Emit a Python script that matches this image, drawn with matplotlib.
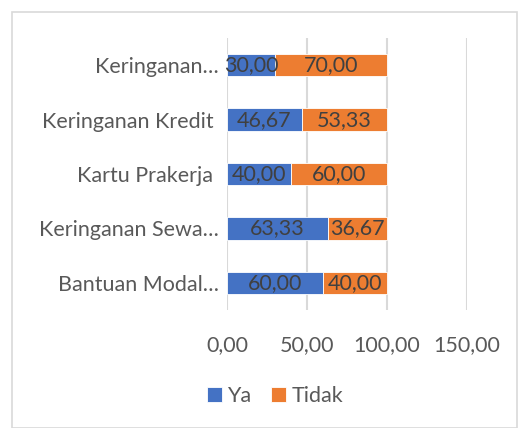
import matplotlib.pyplot as plt
from matplotlib.patches import Rectangle

categories = ["Bantuan Modal…", "Keringanan Sewa…", "Kartu Prakerja ", "Keringanan Kredit ", "Keringanan…"]
ya = [60.00, 63.33, 40.00, 46.67, 30.00]
tidak = [40.00, 36.67, 60.00, 53.33, 70.00]
x_ticks = [0, 50, 100, 150]

plt.rcParams['font.family'] = ['Lato', 'DejaVu Sans']
fs = 15.5

fig = plt.figure(figsize=(5.18, 4.28), dpi=100)
ax = fig.add_axes([227 / 518, 1 - 310 / 428, 240 / 518, 272 / 428])

fig.patches.append(Rectangle((12 / 518, 0), 1 - 13 / 518, 1 - 12 / 428, transform=fig.transFigure,
                             fill=False, edgecolor="#d9d9d9", linewidth=1.2))

pos = range(len(categories))
b1 = ax.barh(pos, ya, height=0.41, color="#4472C4", edgecolor="white", linewidth=0.6, label="Ya", zorder=3)
b2 = ax.barh(pos, tidak, left=ya, height=0.41, color="#ED7D31", edgecolor="white", linewidth=0.6, label="Tidak", zorder=3)

for bars in (b1, b2):
    for r in bars:
        v = r.get_width()
        ax.text(r.get_x() + v / 2, r.get_y() + r.get_height() / 2, f"{v:.2f}".replace(".", ","),
                ha="center", va="center", fontsize=fs, color="#404040", zorder=4)

ax.set_xlim(0, 150)
ax.set_ylim(-0.5, 4.5)
ax.set_xticks(x_ticks)
ax.set_xticklabels([f"{t:.2f}".replace(".", ",") for t in x_ticks])
ax.set_yticks(list(pos))
ax.set_yticklabels(categories)
ax.tick_params(length=0, labelsize=fs, colors="#595959")
ax.tick_params(axis="x", pad=18)
ax.tick_params(axis="y", pad=6)
ax.grid(axis="x", color="#d9d9d9", linewidth=1.5, zorder=0)
for s in ax.spines.values():
    s.set_visible(False)

fig.legend(loc="center", bbox_to_anchor=(275 / 518, 1 - 396 / 428), ncol=2, frameon=False,
           fontsize=fs, labelcolor="#595959", handlelength=0.7, handleheight=0.7,
           handletextpad=0.25, columnspacing=0.9)

fig.savefig("out.png", dpi=100)
